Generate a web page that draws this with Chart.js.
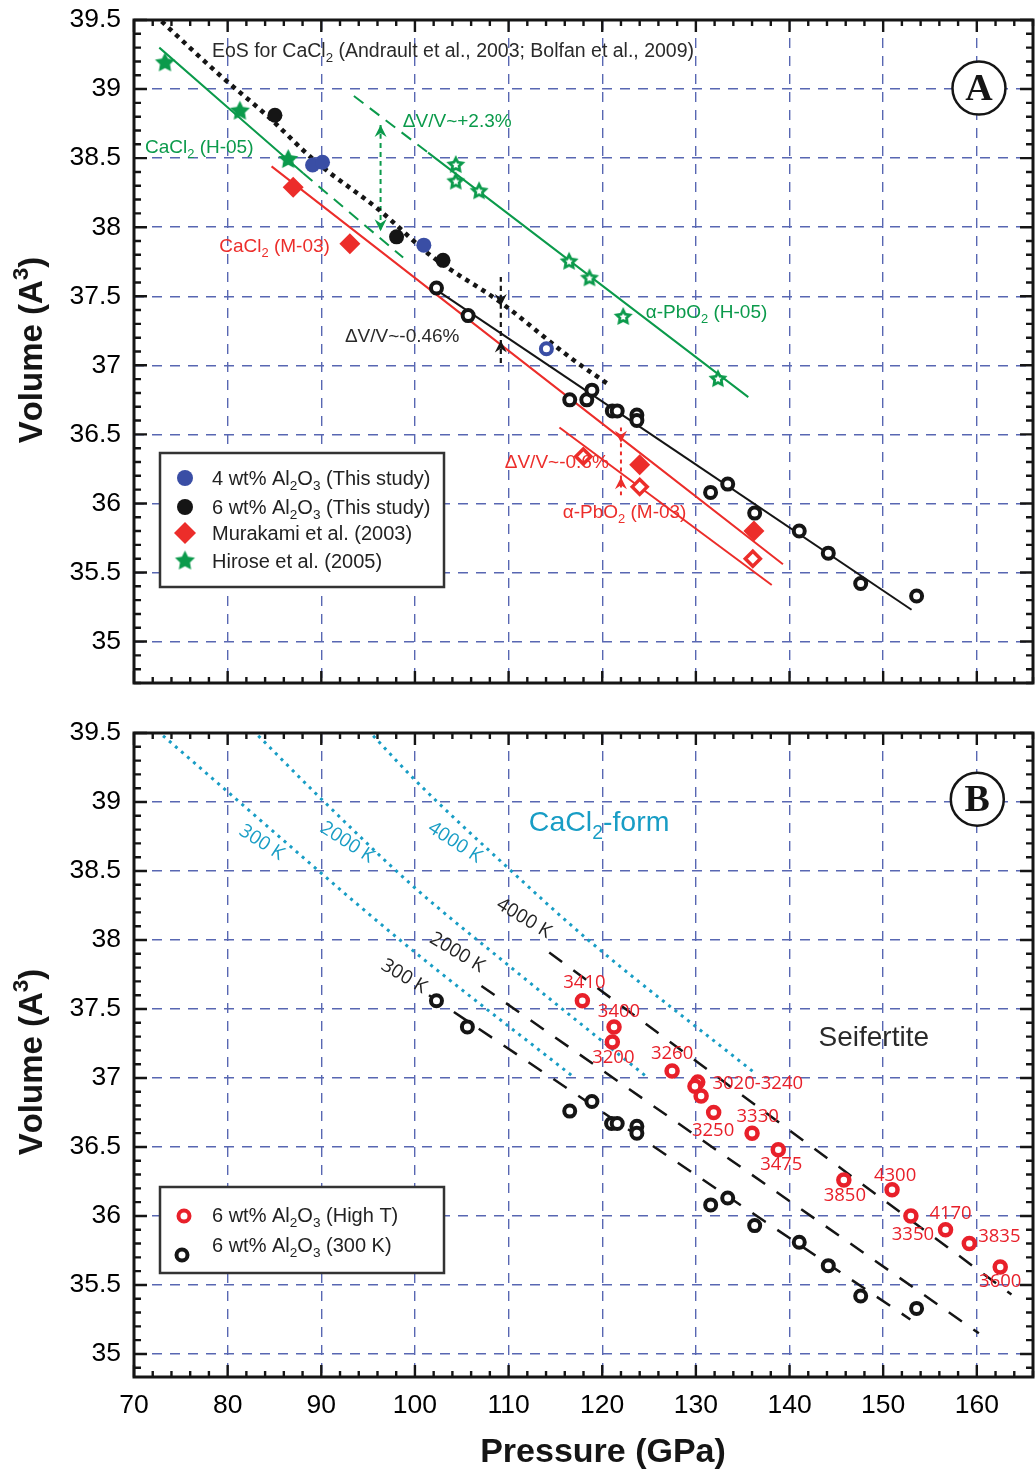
<!DOCTYPE html>
<html>
<head>
<meta charset="utf-8">
<script src="https://cdn.jsdelivr.net/npm/chart.js@4.4.1/dist/chart.umd.min.js"></script>
<style>
  html, body { margin: 0; padding: 0; background: #fff; }
  #wrap { position: relative; width: 1035px; height: 1473px; }
  #boxA { position: absolute; left: 0; top: 0; }
  #boxB { position: absolute; left: 0; top: 700px; }
</style>
</head>
<body>
<div id="wrap">
  <div id="boxA"><canvas id="chartA" width="1035" height="700"></canvas></div>
  <div id="boxB"><canvas id="chartB" width="1035" height="773"></canvas></div>
</div>
<script>
// ---------- axes ----------
const xTicks = [70, 80, 90, 100, 110, 120, 130, 140, 150, 160];
const yTicks = [35, 35.5, 36, 36.5, 37, 37.5, 38, 38.5, 39, 39.5];

// ---------- panel A data (pressure GPa, volume A^3) ----------
const al4P = [89.07, 90.13, 100.95];
const al4V = [38.45, 38.47, 37.87];
const al4OpenP = [114.04];
const al4OpenV = [37.12];

const al6P = [85.05, 98.04, 103.0];
const al6V = [38.81, 37.93, 37.76];
const al6OpenP = [102.3, 105.68, 116.53, 118.35, 118.9, 121.08, 121.6, 123.7, 123.7, 131.57, 133.4, 136.28, 141.04, 144.14, 147.6, 153.57];
const al6OpenV = [37.56, 37.36, 36.75, 36.75, 36.82, 36.67, 36.67, 36.64, 36.60, 36.08, 36.14, 35.93, 35.80, 35.64, 35.42, 35.33];

const murP = [87.0, 93.05, 124.0, 136.2];
const murV = [38.29, 37.88, 36.28, 35.80];
const murOpenP = [117.98, 124.0, 136.08];
const murOpenV = [36.34, 36.12, 35.60];

const hirP = [73.31, 81.31, 86.47];
const hirV = [39.19, 38.84, 38.49];
const hirOpenP = [104.36, 104.36, 106.85, 116.46, 118.64, 122.24, 132.36];
const hirOpenV = [38.45, 38.33, 38.26, 37.75, 37.63, 37.35, 36.90];

// EoS of CaCl2-type (dotted)
const eosP = [72.95, 79.18, 84.33, 89.32, 96.26, 101.77, 109.06, 116.9, 120.5];
const eosV = [39.49, 39.10, 38.80, 38.48, 38.12, 37.79, 37.46, 37.04, 36.87];

// fitted lines
const h05CaP = [72.70, 88.07];     const h05CaV = [39.30, 38.39];
const h05CaExtP = [88.07, 98.74];  const h05CaExtV = [38.39, 37.78];
const h05PbExtP = [93.48, 101.4];  const h05PbExtV = [38.95, 38.54];
const h05PbP = [101.4, 135.6];     const h05PbV = [38.54, 36.77];
const m03CaP = [84.69, 139.3];     const m03CaV = [38.44, 35.56];
const m03PbP = [115.43, 138.1];    const m03PbV = [36.55, 35.41];
const fitP = [101.77, 153.03];     const fitV = [37.57, 35.23];

// volume-jump arrows: green, black, red
const arrowP = [96.33, 109.17, 122.0];
const arrowTop = [38.74, 37.64, 36.55];
const arrowBot = [37.97, 37.01, 36.06];
const headUpV = [38.74, 37.18, 36.19];
const headDownV = [37.97, 37.43, 36.44];

// ---------- panel B data ----------
const htP = [117.88, 121.26, 121.08, 127.46, 130.2, 129.9, 130.56, 131.9, 136.0, 138.8, 145.8, 150.95, 152.96, 156.66, 159.2, 162.5];
const htV = [37.56, 37.37, 37.26, 37.05, 36.97, 36.94, 36.87, 36.75, 36.60, 36.48, 36.26, 36.19, 36.00, 35.90, 35.80, 35.63];
const htT = ['3410', '3400', '3200', '3260', '3020-3240', '', '', '3330', '3250', '3475', '3850', '4300', '3350', '4170', '3835', '3600'];

const rtP = [102.3, 105.6, 116.53, 118.9, 121.0, 121.6, 123.7, 123.7, 131.58, 133.4, 136.28, 141.04, 144.14, 147.6, 153.57];
const rtV = [37.56, 37.37, 36.76, 36.83, 36.67, 36.67, 36.65, 36.60, 36.08, 36.13, 35.93, 35.81, 35.64, 35.42, 35.33];

// CaCl2-form isotherms (dotted)
const c300P = [73.1, 79.9, 98.04, 117.07];          const c300V = [39.48, 39.08, 38.02, 37.0];
const c2000P = [83.27, 90.03, 99.8, 110.1, 124.9];  const c2000V = [39.48, 39.02, 38.39, 37.81, 37.0];
const c4000P = [95.54, 100.0, 110.13, 118.5, 136.4]; const c4000V = [39.48, 39.16, 38.51, 38.0, 37.03];
// seifertite isotherms (dashed)
const s300P = [101.5, 152.9];   const s300V = [37.60, 35.25];
const s2000P = [107.1, 160.22]; const s2000V = [37.667, 35.15];
const s4000P = [114.34, 163.7]; const s4000V = [37.91, 35.43];

// ---------- styles ----------
const GREEN = '#0b9a4b', RED = '#ec2d2a', BLUE = '#3a4ea5', BLACK = '#151515', CYAN = '#189dc5', GRID = '#5867b2';
const SANS = '"Liberation Sans", Arial, sans-serif';
const OPEN = '"Open Sans", "DejaVu Sans", sans-serif';
// pixel offsets of the temperature labels from their points
const htOff = [[2, -18], [5, -15], [1, 16], [0, -17], [60, 2], [0, 0], [0, 0], [44, 4], [-39, -2], [3, 15], [1, 16], [3, -14], [2, 19], [5, -16], [30, -7], [0, 15]];

const pts = (P, V) => P.map((p, i) => ({ x: p, y: V[i] }));

function starPath(g, cx, cy, r, ri) {
  g.beginPath();
  for (let i = 0; i < 10; i++) {
    const a = -Math.PI / 2 + i * Math.PI / 5;
    const rr = i % 2 ? ri : r;
    g.lineTo(cx + rr * Math.cos(a), cy + rr * Math.sin(a));
  }
  g.closePath();
}
function starCanvas(r, color, hole) {
  const s = Math.ceil(2 * r + 4);
  const c = document.createElement('canvas');
  c.width = s; c.height = s;
  const g = c.getContext('2d');
  starPath(g, s / 2, s / 2, r, r * 0.5);
  g.fillStyle = color; g.fill();
  if (hole) { starPath(g, s / 2, s / 2, hole, hole * 0.5); g.fillStyle = '#fff'; g.fill(); }
  return c;
}
const starFilled = starCanvas(10.5, GREEN, 0);
const starOpen = starCanvas(10, GREEN, 3.8);

function marker(data, style, r, bg, border, bw, order) {
  return { data, showLine: false, pointStyle: style, pointRadius: r, pointBackgroundColor: bg,
    pointBorderColor: border, pointBorderWidth: bw, order: order || 0 };
}
function line(data, color, width, dash, order) {
  return { data, showLine: true, pointRadius: 0, borderColor: color, borderWidth: width,
    borderDash: dash || [], fill: false, order: order || 5, cubicInterpolationMode: 'monotone' };
}

// rich text: _x subscript, ^x superscript
function richText(ctx, str, x, y, size, color, family, weight, align) {
  const parts = [];
  for (let i = 0; i < str.length; i++) {
    const c = str[i];
    if ((c === '_' || c === '^') && i + 1 < str.length) { parts.push({ t: str[i + 1], k: c }); i++; }
    else parts.push({ t: c, k: '' });
  }
  const w = weight || 'normal';
  const fontOf = k => (w + ' ' + (k ? size * 0.68 : size) + 'px ' + family);
  let total = 0;
  parts.forEach(p => { ctx.font = fontOf(p.k); p.w = ctx.measureText(p.t).width; total += p.w; });
  let cx = align === 'center' ? x - total / 2 : (align === 'right' ? x - total : x);
  ctx.save();
  ctx.fillStyle = color; ctx.textBaseline = 'alphabetic'; ctx.textAlign = 'left';
  const base = y + size * 0.36;
  parts.forEach(p => {
    ctx.font = fontOf(p.k);
    const dy = p.k === '_' ? size * 0.26 : (p.k === '^' ? -size * 0.42 : 0);
    ctx.fillText(p.t, cx, base + dy);
    cx += p.w;
  });
  ctx.restore();
}
function rotText(ctx, txt, x, y, ang, size, color) {
  ctx.save();
  ctx.translate(x, y); ctx.rotate(ang * Math.PI / 180);
  ctx.font = size + 'px ' + OPEN; ctx.fillStyle = color;
  ctx.textAlign = 'center'; ctx.textBaseline = 'middle';
  ctx.fillText(txt, 0, 0);
  ctx.restore();
}
function arrowHead(ctx, x, y, dir, color) {
  // dir = -1 points up, +1 points down ; (x, y) is the tip
  ctx.save();
  ctx.fillStyle = color;
  ctx.beginPath();
  ctx.moveTo(x, y);
  ctx.lineTo(x + 6, y - dir * 12);
  ctx.lineTo(x, y - dir * 8);
  ctx.lineTo(x - 6, y - dir * 12);
  ctx.closePath(); ctx.fill();
  ctx.restore();
}
function frameAndTicks(chart) {
  const { ctx, chartArea: a, scales: { x, y } } = chart;
  ctx.save();
  ctx.strokeStyle = BLACK; ctx.lineWidth = 2.4; ctx.lineCap = 'butt';
  ctx.beginPath();
  for (let i = 0; 70 + 2 * i <= x.max; i++) {
    const v = 70 + 2 * i;
    const px = x.getPixelForValue(v);
    const len = v % 10 === 0 ? 12 : 6;
    ctx.moveTo(px, a.bottom); ctx.lineTo(px, a.bottom - len);
    ctx.moveTo(px, a.top); ctx.lineTo(px, a.top + len);
  }
  for (let k = Math.ceil(y.min * 10 - 1e-6); k <= Math.floor(y.max * 10 + 1e-6); k++) {
    const py = y.getPixelForValue(k / 10);
    const len = k % 5 === 0 ? 13 : 7;
    ctx.moveTo(a.left, py); ctx.lineTo(a.left + len, py);
    ctx.moveTo(a.right, py); ctx.lineTo(a.right - len, py);
  }
  ctx.stroke();
  ctx.lineWidth = 3;
  ctx.strokeRect(a.left, a.top, a.right - a.left, a.bottom - a.top);
  ctx.restore();
}
function letterCircle(ctx, cx, cy, ch) {
  ctx.save();
  ctx.beginPath(); ctx.arc(cx, cy, 26.5, 0, Math.PI * 2);
  ctx.fillStyle = '#fff'; ctx.fill();
  ctx.lineWidth = 2.5; ctx.strokeStyle = BLACK; ctx.stroke();
  ctx.font = 'bold 38px "Liberation Serif", serif';
  ctx.fillStyle = BLACK; ctx.textAlign = 'center'; ctx.textBaseline = 'middle';
  ctx.fillText(ch, cx, cy + 2);
  ctx.restore();
}
function volumeTitle(ctx, cy) {
  ctx.save();
  ctx.translate(30, cy); ctx.rotate(-Math.PI / 2);
  richText(ctx, 'Volume (A^3)', 0, 0, 33, BLACK, SANS, 'bold', 'center');
  ctx.restore();
}

function options(yMin, padTop, xHeight, showX) {
  return {
    responsive: false, animation: false, events: [],
    layout: { autoPadding: false, padding: { top: padTop, right: 2, left: 0, bottom: 0 } },
    plugins: { legend: { display: false }, tooltip: { enabled: false } },
    scales: {
      x: {
        type: 'linear', min: 70, max: 166,
        afterBuildTicks: s => { s.ticks = xTicks.map(v => ({ value: v })); },
        afterFit: s => { s.height = xHeight; s.paddingLeft = 0; s.paddingRight = 0; },
        grid: { color: GRID, lineWidth: 1.4, drawTicks: false },
        border: { display: false, dash: [10, 8] },
        ticks: { display: showX, padding: 13, color: '#000', maxRotation: 0, autoSkip: false,
          font: { family: SANS, size: 26.5 } }
      },
      y: {
        type: 'linear', min: yMin, max: 39.5,
        afterBuildTicks: s => { s.ticks = yTicks.map(v => ({ value: v })); },
        afterFit: s => { s.width = 134; s.paddingTop = 0; s.paddingBottom = 0; },
        grid: { color: GRID, lineWidth: 1.4, drawTicks: false },
        border: { display: false, dash: [10, 8] },
        ticks: { padding: 13, color: '#000', font: { family: SANS, size: 26.5 }, callback: v => String(v) }
      }
    }
  };
}

// ---------- panel A ----------
const panelA = {
  id: 'panelA',
  afterDraw(chart) {
    const { ctx, scales: { x, y } } = chart;
    const X = v => x.getPixelForValue(v), Y = v => y.getPixelForValue(v);
    const arrowColors = [GREEN, BLACK, RED];
    arrowP.forEach((p, i) => {
      arrowHead(ctx, X(p), Y(headUpV[i]), -1, arrowColors[i]);
      arrowHead(ctx, X(p), Y(headDownV[i]), 1, arrowColors[i]);
    });
    richText(ctx, 'EoS for CaCl_2 (Andrault et al., 2003; Bolfan et al., 2009)', X(78.32), Y(39.285), 19.5, '#2a2a2a', SANS);
    richText(ctx, '\u0394V/V~+2.3%', X(98.71), Y(38.777), 19, GREEN, SANS);
    richText(ctx, 'CaCl_2 (H-05)', X(71.17), Y(38.584), 19, GREEN, SANS);
    richText(ctx, 'CaCl_2 (M-03)', X(79.1), Y(37.871), 19, RED, SANS);
    richText(ctx, '\u0394V/V~-0.46%', X(92.52), Y(37.219), 19, '#2a2a2a', SANS);
    richText(ctx, '\u03b1-PbO_2 (H-05)', X(124.64), Y(37.393), 19, GREEN, SANS);
    richText(ctx, '\u0394V/V~-0.6%', X(109.59), Y(36.306), 19, RED, SANS);
    richText(ctx, '\u03b1-PbO_2 (M-03)', X(115.78), Y(35.944), 19, RED, SANS);
    letterCircle(ctx, X(160.23), Y(39.007), 'A');

    // legend
    ctx.save();
    ctx.fillStyle = '#fff'; ctx.fillRect(160, 453, 284, 134);
    ctx.lineWidth = 2.5; ctx.strokeStyle = '#333'; ctx.strokeRect(160, 453, 284, 134);
    ctx.fillStyle = BLUE; ctx.beginPath(); ctx.arc(185, 478, 8, 0, 7); ctx.fill();
    ctx.fillStyle = BLACK; ctx.beginPath(); ctx.arc(185, 507, 8, 0, 7); ctx.fill();
    ctx.fillStyle = RED; ctx.beginPath();
    ctx.moveTo(185, 522); ctx.lineTo(196, 533); ctx.lineTo(185, 544); ctx.lineTo(174, 533); ctx.closePath(); ctx.fill();
    ctx.drawImage(starFilled, 185 - starFilled.width / 2, 561 - starFilled.height / 2);
    ctx.restore();
    richText(ctx, '4 wt% Al_2O_3 (This study)', 212, 478, 20, '#222', SANS);
    richText(ctx, '6 wt% Al_2O_3 (This study)', 212, 507, 20, '#222', SANS);
    richText(ctx, 'Murakami et al. (2003)', 212, 533, 20, '#222', SANS);
    richText(ctx, 'Hirose et al. (2005)', 212, 561, 20, '#222', SANS);

    frameAndTicks(chart);
    volumeTitle(ctx, 350);
  }
};

new Chart(document.getElementById('chartA'), {
  type: 'scatter',
  data: {
    datasets: [
      marker(pts(al4P, al4V), 'circle', 7.5, BLUE, BLUE, 0),
      marker(pts(al4OpenP, al4OpenV), 'circle', 5.5, '#fff', BLUE, 4),
      marker(pts(al6P, al6V), 'circle', 7.5, BLACK, BLACK, 0),
      marker(pts(al6OpenP, al6OpenV), 'circle', 5.5, '#fff', BLACK, 4),
      marker(pts(murP, murV), 'rectRot', 10.5, RED, RED, 0),
      marker(pts(murOpenP, murOpenV), 'rectRot', 7.5, '#fff', RED, 3.5),
      marker(pts(hirP, hirV), starFilled, 10, GREEN, GREEN, 0),
      marker(pts(hirOpenP, hirOpenV), starOpen, 10, GREEN, GREEN, 0),
      line(pts(eosP, eosV), BLACK, 4.5, [4.5, 5], 3),
      line(pts(h05CaP, h05CaV), GREEN, 2),
      line(pts(h05CaExtP, h05CaExtV), GREEN, 2, [12, 8]),
      line(pts(h05PbExtP, h05PbExtV), GREEN, 2, [12, 8]),
      line(pts(h05PbP, h05PbV), GREEN, 2),
      line(pts(m03CaP, m03CaV), RED, 2),
      line(pts(m03PbP, m03PbV), RED, 2),
      line(pts(fitP, fitV), BLACK, 2),
      line(pts([arrowP[0], arrowP[0]], [arrowTop[0], arrowBot[0]]), GREEN, 2, [5, 4]),
      line(pts([arrowP[1], arrowP[1]], [arrowTop[1], arrowBot[1]]), BLACK, 2.2, [5, 4]),
      line(pts([arrowP[2], arrowP[2]], [arrowTop[2], arrowBot[2]]), RED, 2, [4, 4])
    ]
  },
  options: options(34.7, 20, 17, false),
  plugins: [panelA]
});

// ---------- panel B ----------
const panelB = {
  id: 'panelB',
  afterDraw(chart) {
    const { ctx, scales: { x, y } } = chart;
    const X = v => x.getPixelForValue(v), Y = v => y.getPixelForValue(v);
    htT.forEach((t, i) => {
      if (!t) return;
      ctx.save();
      ctx.font = '18.5px ' + OPEN; ctx.fillStyle = '#e8202a';
      ctx.textAlign = 'center'; ctx.textBaseline = 'middle';
      ctx.fillText(t, X(htP[i]) + htOff[i][0], Y(htV[i]) + htOff[i][1]);
      ctx.restore();
    });
    rotText(ctx, '300 K', X(83.63), Y(38.706), 33, 19, CYAN);
    rotText(ctx, '2000 K', X(92.76), Y(38.706), 33, 19, CYAN);
    rotText(ctx, '4000 K', X(104.26), Y(38.706), 33, 19, CYAN);
    rotText(ctx, '4000 K', X(111.62), Y(38.157), 31, 19, '#222');
    rotText(ctx, '2000 K', X(104.5), Y(37.909), 31, 19, '#222');
    rotText(ctx, '300 K', X(98.82), Y(37.735), 31, 19, '#222');
    richText(ctx, 'CaCl_2-form', X(112.16), Y(38.862), 28.5, CYAN, SANS);
    richText(ctx, 'Seifertite', X(143.1), Y(37.304), 28, '#2a2a2a', SANS);
    letterCircle(ctx, X(160.05), Y(39.02), 'B');

    // legend
    ctx.save();
    ctx.fillStyle = '#fff'; ctx.fillRect(160, 487, 284, 86);
    ctx.lineWidth = 2.5; ctx.strokeStyle = '#333'; ctx.strokeRect(160, 487, 284, 86);
    ctx.lineWidth = 4;
    ctx.strokeStyle = '#e8202a'; ctx.beginPath(); ctx.arc(184, 516, 5.5, 0, 7); ctx.stroke();
    ctx.strokeStyle = BLACK; ctx.beginPath(); ctx.arc(182, 555, 5.5, 0, 7); ctx.stroke();
    ctx.restore();
    richText(ctx, '6 wt% Al_2O_3 (High T)', 212, 515, 20, '#222', SANS);
    richText(ctx, '6 wt% Al_2O_3 (300 K)', 212, 545, 20, '#222', SANS);

    frameAndTicks(chart);
    volumeTitle(ctx, 362);
    richText(ctx, 'Pressure (GPa)', 603, 750, 34, BLACK, SANS, 'bold', 'center');
  }
};

new Chart(document.getElementById('chartB'), {
  type: 'scatter',
  data: {
    datasets: [
      marker(pts(htP, htV), 'circle', 5.5, '#fff', '#e8202a', 4.5),
      marker(pts(rtP, rtV), 'circle', 5.5, '#fff', BLACK, 4),
      line(pts(c300P, c300V), CYAN, 3, [3, 5]),
      line(pts(c2000P, c2000V), CYAN, 3, [3, 5]),
      line(pts(c4000P, c4000V), CYAN, 3, [3, 5]),
      line(pts(s300P, s300V), BLACK, 2.5, [16, 14]),
      line(pts(s2000P, s2000V), BLACK, 2.5, [16, 14]),
      line(pts(s4000P, s4000V), BLACK, 2.5, [16, 14])
    ]
  },
  options: options(34.833, 33, 96, true),
  plugins: [panelB]
});
</script>
</body>
</html>
